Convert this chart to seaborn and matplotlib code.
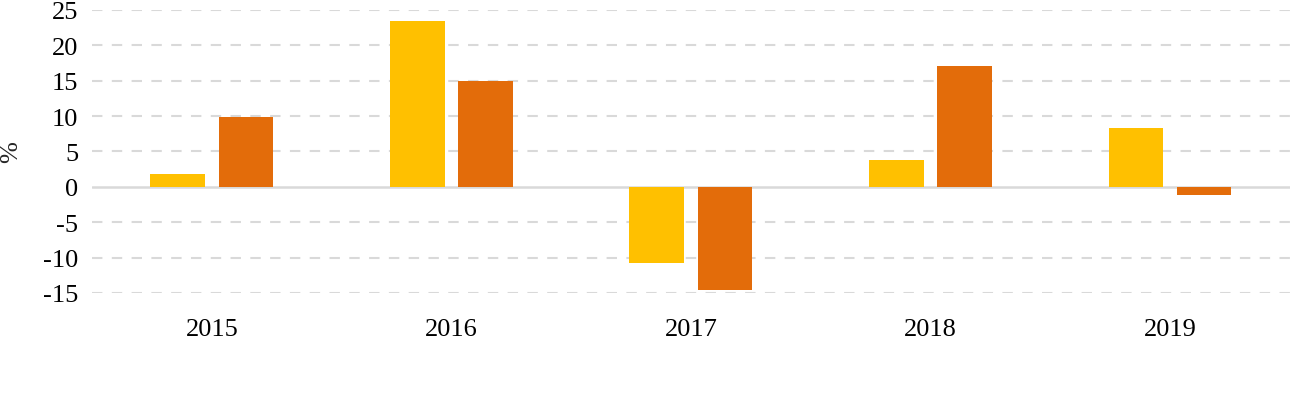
import matplotlib
matplotlib.use("Agg")
import matplotlib.pyplot as plt
import seaborn as sns
import pandas as pd

years = ["2015", "2016", "2017", "2018", "2019"]
series_a = [1.8, 23.5, -10.7, 3.8, 8.3]
series_b = [9.8, 15.0, -14.6, 17.1, -1.1]
series_names = ["A", "B"]
colors = ["#FFC000", "#E36C0A"]
yticks = [-15, -10, -5, 0, 5, 10, 15, 20, 25]

df = pd.DataFrame({
    "year": years * 2,
    "value": series_a + series_b,
    "series": [series_names[0]] * len(years) + [series_names[1]] * len(years),
})

sns.set_theme(style="white")
plt.rcParams["font.family"] = ["Liberation Serif", "DejaVu Serif"]

fig = plt.figure(figsize=(12.91, 4.06), dpi=100)
ax = fig.add_axes([0.0713, 0.276, 0.9277, 0.697])

sns.barplot(data=df, x="year", y="value", hue="series", palette=colors,
            width=0.57, gap=0.2, legend=False, ax=ax, saturation=1,
            linewidth=0, edgecolor="none")

ax.set_ylim(-15, 25)
ax.set_xlim(-0.5, 4.5)
ax.set_yticks(yticks)
ax.set_yticklabels([str(t) for t in yticks])
for t in yticks:
    if t == 0:
        ax.axhline(0, color="#D9D9D9", lw=1.8, zorder=0.5)
    else:
        ax.axhline(t, color="#D9D9D9", lw=1.5, ls=(0, (5, 4.5)), zorder=0.5)
for s in ax.spines.values():
    s.set_visible(False)
ax.tick_params(axis="both", length=0, labelsize=19, colors="#000000")
ax.tick_params(axis="x", pad=18)
ax.tick_params(axis="y", pad=10)
ax.set_xlabel("")
ax.set_ylabel("%", fontsize=19)
ax.yaxis.set_label_coords(-0.058, 0.5)

fig.savefig("out.png", dpi=100)
